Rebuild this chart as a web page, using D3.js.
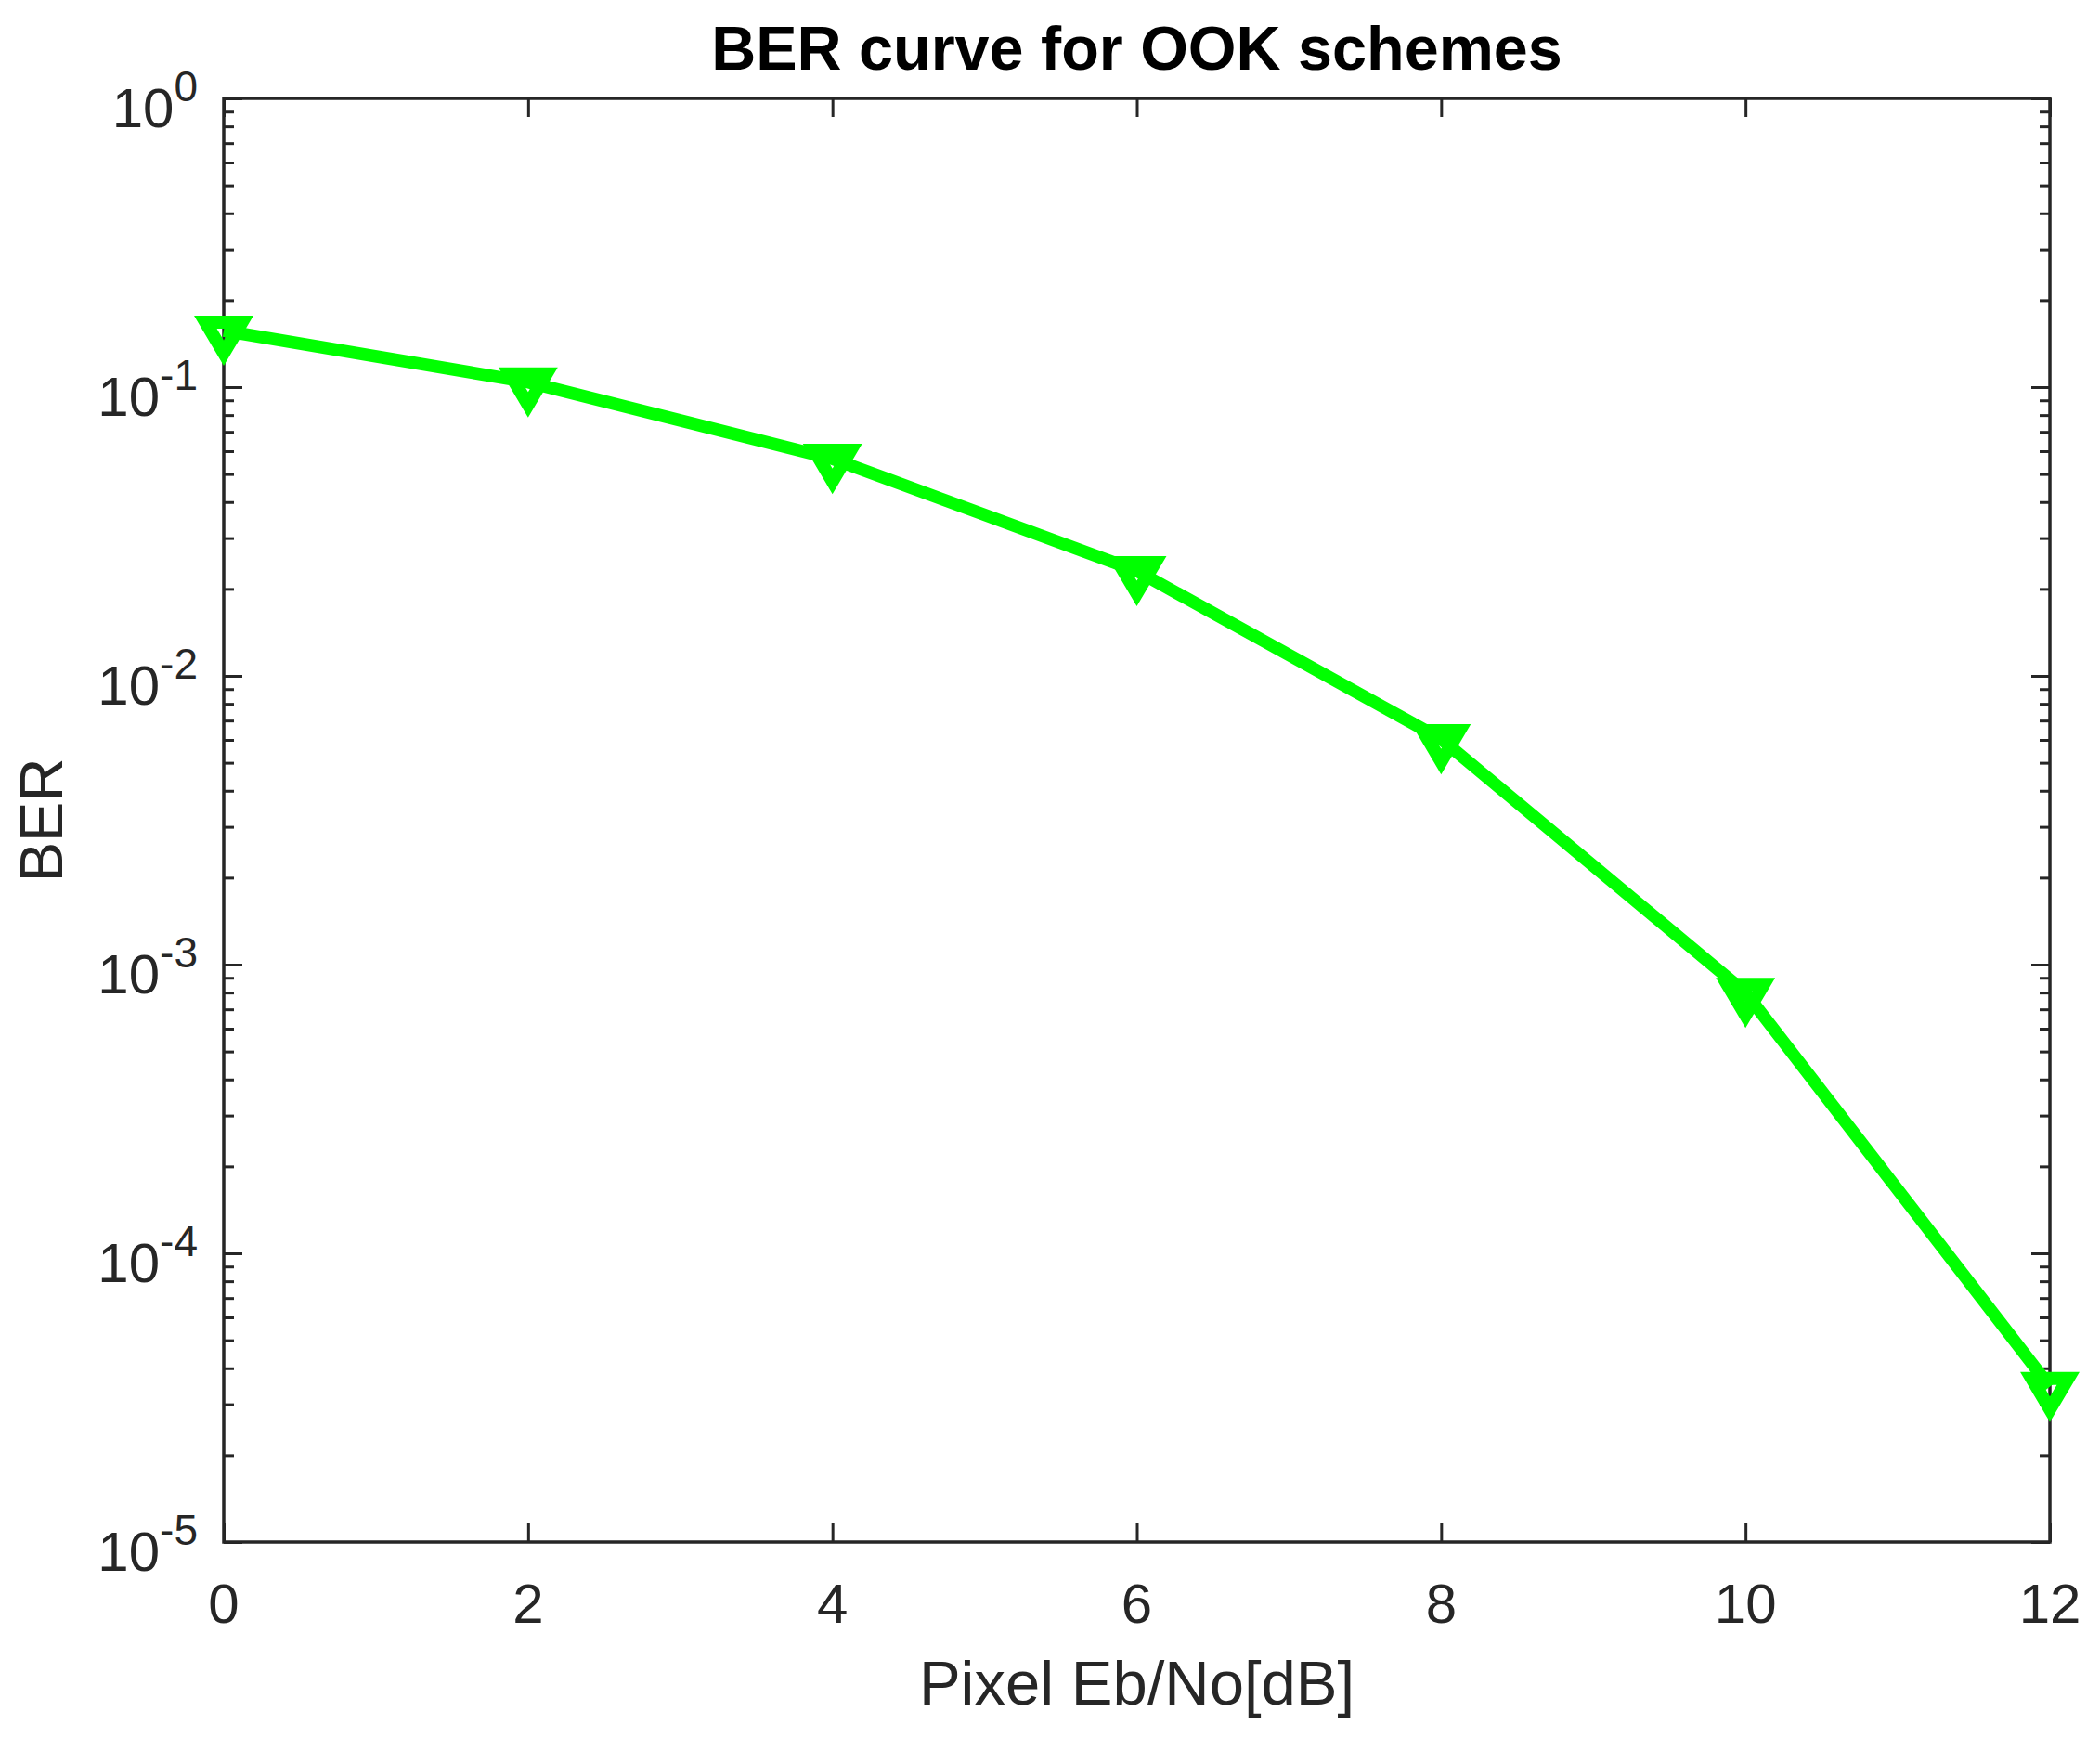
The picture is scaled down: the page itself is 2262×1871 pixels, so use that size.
<!DOCTYPE html>
<html>
<head>
<meta charset="utf-8">
<script src="https://cdn.jsdelivr.net/npm/d3@7"></script>
<style>
  html, body { margin: 0; padding: 0; background: #ffffff; }
  text { font-family: "Liberation Sans", Arial, Helvetica, sans-serif; }
</style>
</head>
<body>
<script>
// values
var snrDb = [0, 2, 4, 6, 8, 10, 12];
var berValues = [0.157, 0.104, 0.0565, 0.0231, 0.00604, 0.0008, 0.0000345];
var xTickValues = [0, 2, 4, 6, 8, 10, 12];
var yTickExponents = [0, -1, -2, -3, -4, -5];

var titleText = "BER curve for OOK schemes";
var xLabelText = "Pixel Eb/No[dB]";
var yLabelText = "BER";

(function() {
    var width = 2262, height = 1871;
    var left = 241, right = 2208, top = 106, bottom = 1661;
    var axisColour = "#262626";
    var lineColour = "#00ff00";

    var svg = d3.select("body").append("svg")
        .attr("width", width)
        .attr("height", height)
        .style("display", "block");

    svg.append("rect")
        .attr("width", width)
        .attr("height", height)
        .attr("fill", "#ffffff");

    var x = d3.scaleLinear().domain([0, 12]).range([left, right]);
    var y = d3.scaleLog().domain([1e-5, 1]).range([bottom, top]);

    // minor ticks: every 1..9 x 10^k that is not a decade
    var minorTicks = y.ticks().filter(function(v) {
        return Math.abs(Math.log10(v) - Math.round(Math.log10(v))) > 1e-6;
    });
    var majorTicks = yTickExponents.map(function(e) { return Math.pow(10, e); });

    var axes = svg.append("g").attr("class", "axes");

    //tick marks, all pointing inwards, on all four sides
    var drawAxis = function(axis, transform) {
        var g = axes.append("g")
            .attr("transform", transform)
            .call(axis);
        g.select(".domain").remove();
        g.selectAll("line").attr("stroke", axisColour).attr("stroke-width", 3);
        g.selectAll("text").remove();
    };

    drawAxis(d3.axisBottom(x).tickValues(xTickValues).tickSize(-20).tickSizeOuter(0), "translate(0," + bottom + ")");
    drawAxis(d3.axisTop(x).tickValues(xTickValues).tickSize(-20).tickSizeOuter(0), "translate(0," + top + ")");
    drawAxis(d3.axisLeft(y).tickValues(majorTicks).tickSize(-20).tickSizeOuter(0), "translate(" + left + ",0)");
    drawAxis(d3.axisRight(y).tickValues(majorTicks).tickSize(-20).tickSizeOuter(0), "translate(" + right + ",0)");
    drawAxis(d3.axisLeft(y).tickValues(minorTicks).tickSize(-11).tickSizeOuter(0), "translate(" + left + ",0)");
    drawAxis(d3.axisRight(y).tickValues(minorTicks).tickSize(-11).tickSizeOuter(0), "translate(" + right + ",0)");

    axes.append("rect")
        .attr("x", left)
        .attr("y", top)
        .attr("width", right - left)
        .attr("height", bottom - top)
        .attr("fill", "none")
        .attr("stroke", axisColour)
        .attr("stroke-width", 3.5);

    // x tick labels
    svg.append("g").selectAll("text")
        .data(xTickValues)
        .enter()
        .append("text")
        .attr("x", function(d) { return x(d); })
        .attr("y", bottom + 87)
        .attr("text-anchor", "middle")
        .attr("font-size", 60)
        .attr("fill", axisColour)
        .text(function(d) { return d; });

    // y tick labels as 10 with a superscript exponent
    var yLabels = svg.append("g").selectAll("text")
        .data(yTickExponents)
        .enter()
        .append("text")
        .attr("x", left - 28)
        .attr("y", function(d) { return y(Math.pow(10, d)) + 31; })
        .attr("text-anchor", "end")
        .attr("font-size", 60)
        .attr("fill", axisColour);
    yLabels.append("tspan").text("10");
    yLabels.append("tspan")
        .attr("dy", -28)
        .attr("font-size", 46)
        .text(function(d) { return d === 0 ? "0" : "-" + Math.abs(d); });

    // series line then markers on top
    var points = snrDb.map(function(d, i) { return [d, berValues[i]]; });

    var line = d3.line()
        .x(function(d) { return x(d[0]); })
        .y(function(d) { return y(d[1]); });

    svg.append("path")
        .datum(points)
        .attr("d", line)
        .attr("fill", "none")
        .attr("stroke", lineColour)
        .attr("stroke-width", 13.5)
        .attr("stroke-linejoin", "miter");

    //downward triangle, thick outline, point sits near the top edge
    var tri = "M-19.7,-9L19.7,-9L0,24.3Z";
    svg.append("g").selectAll("path")
        .data(points)
        .enter()
        .append("path")
        .attr("d", tri)
        .attr("transform", function(d) { return "translate(" + x(d[0]) + "," + y(d[1]) + ")"; })
        .attr("fill", "none")
        .attr("stroke", lineColour)
        .attr("stroke-width", 14)
        .attr("stroke-linejoin", "miter")
        .attr("stroke-miterlimit", 10);

    // title and axis labels
    svg.append("text")
        .attr("x", (left + right) / 2)
        .attr("y", 75)
        .attr("text-anchor", "middle")
        .attr("font-size", 66.5)
        .attr("font-weight", "bold")
        .attr("fill", "#000000")
        .text(titleText);

    svg.append("text")
        .attr("x", (left + right) / 2)
        .attr("y", 1836)
        .attr("text-anchor", "middle")
        .attr("font-size", 67)
        .attr("fill", axisColour)
        .text(xLabelText);

    svg.append("text")
        .attr("transform", "translate(67," + ((top + bottom) / 2) + ") rotate(-90)")
        .attr("text-anchor", "middle")
        .attr("font-size", 65)
        .attr("fill", axisColour)
        .text(yLabelText);
}());
</script>
</body>
</html>
